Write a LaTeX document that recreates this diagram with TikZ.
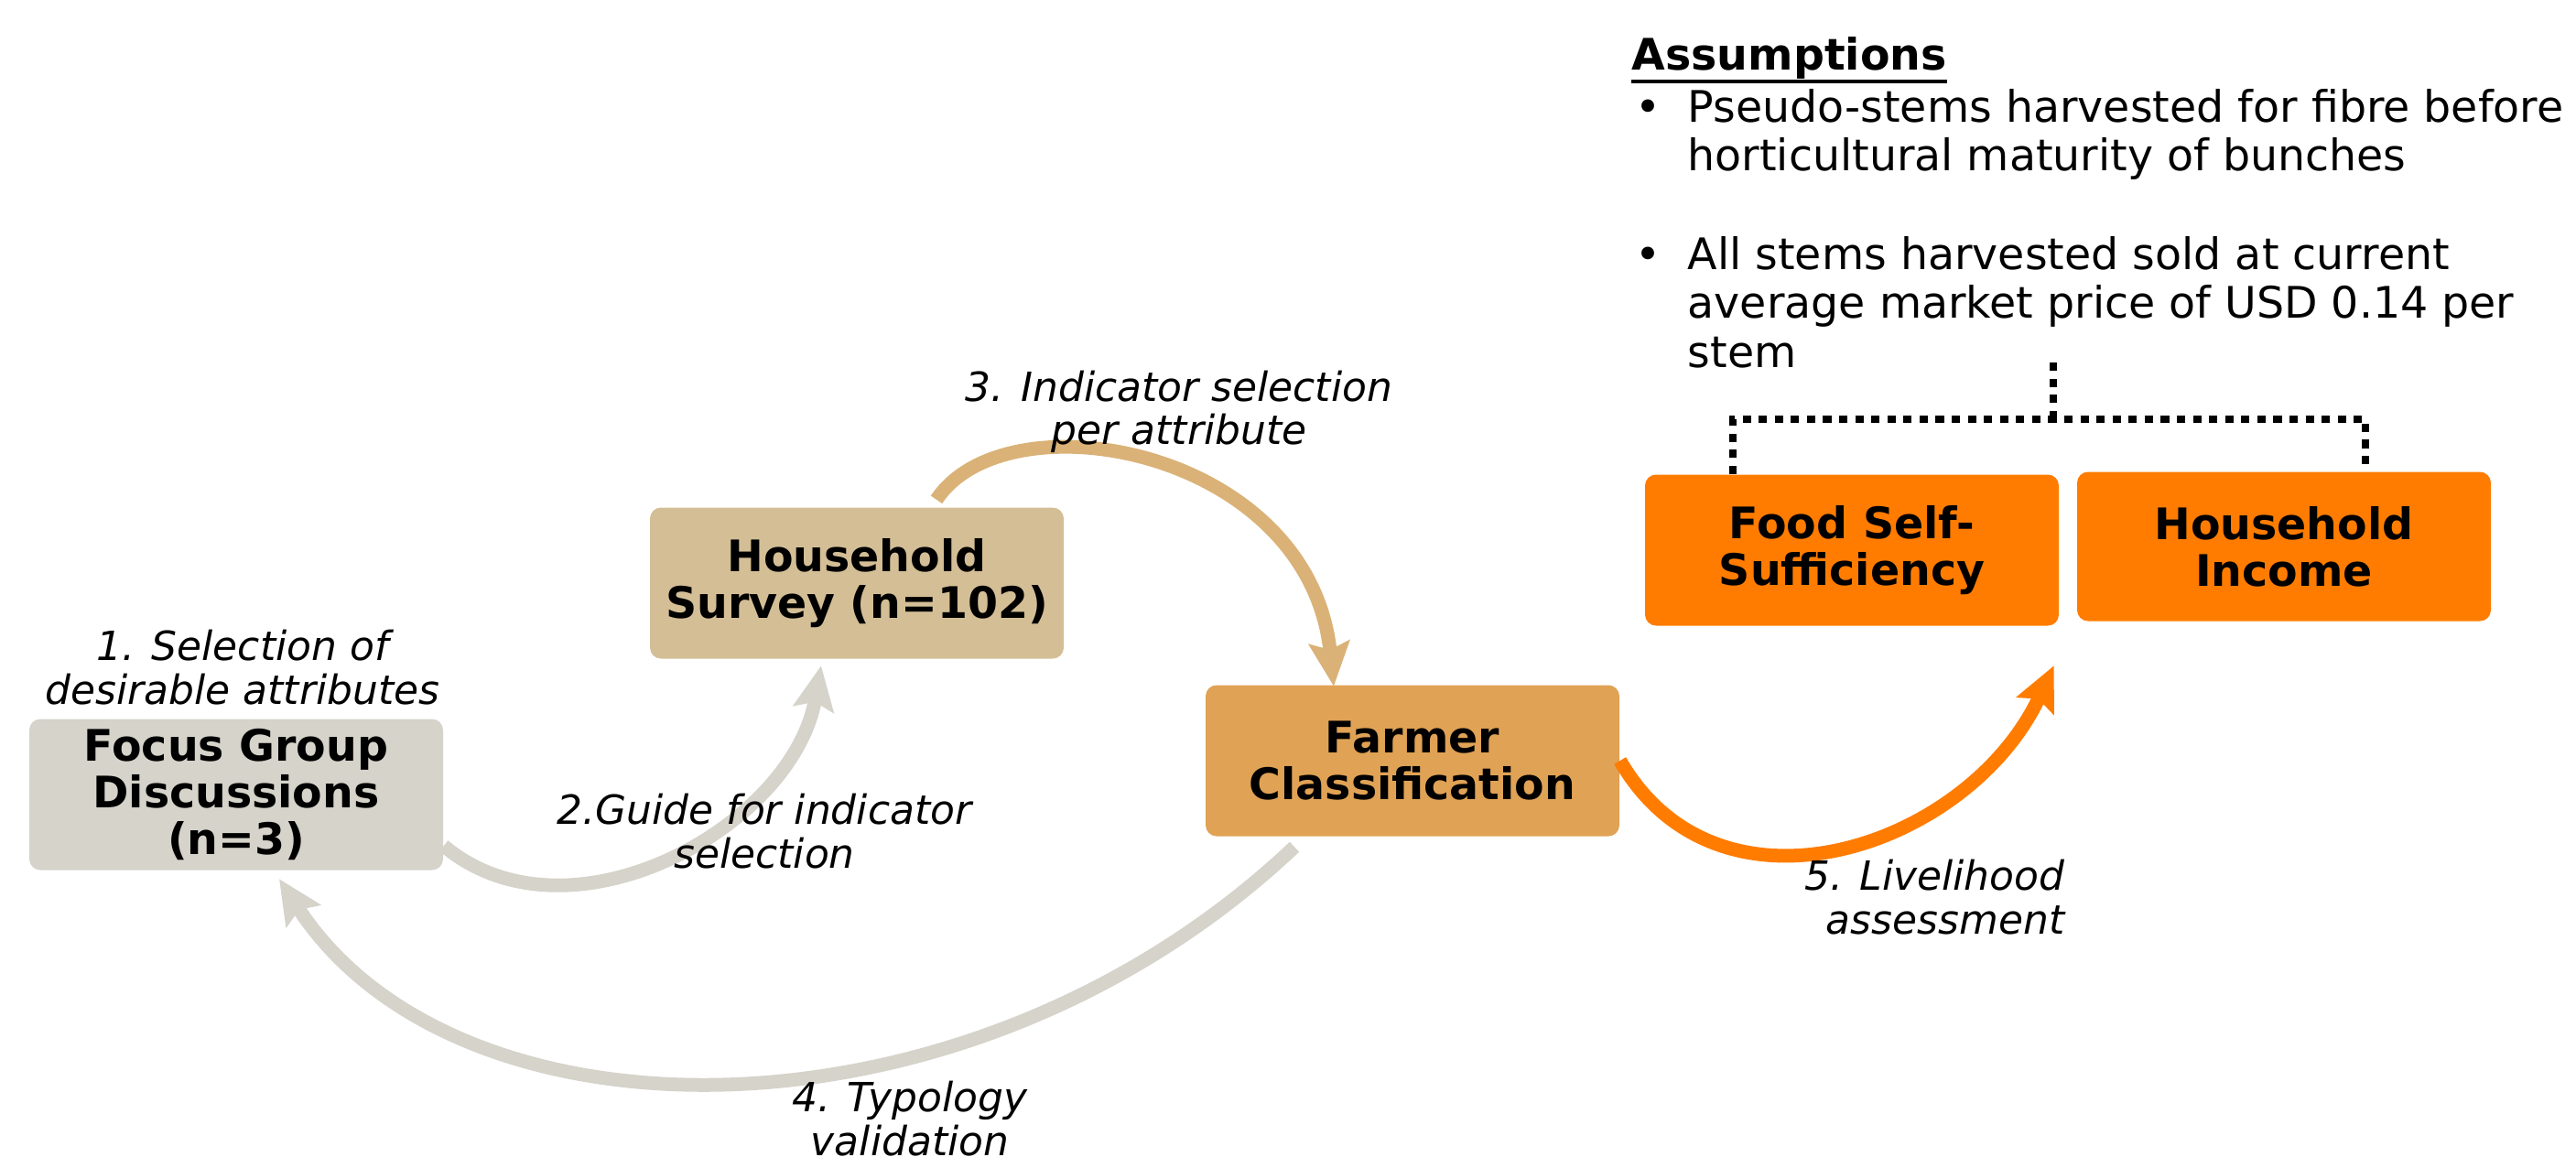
\documentclass[tikz,border=0pt]{standalone}
\usepackage{fontspec}
\setmainfont{DejaVu Sans}
\usetikzlibrary{arrows.meta}

\definecolor{fgdgrey}{RGB}{213,211,202}
\definecolor{surveytan}{RGB}{212,190,150}
\definecolor{farmerbrown}{RGB}{224,162,85}
\definecolor{livelyorange}{RGB}{255,124,0}
\definecolor{arrowtan}{RGB}{218,178,119}

\newcommand{\notelines}[1]{\begin{tabular}[t]{@{}l@{}}#1\end{tabular}}

\tikzset{
  stagebox/.style={rounded corners=0.12cm, minimum width=4.52cm, minimum height=1.65cm,
    align=center, inner sep=0pt, font=\fontsize{13.5}{14.5}\selectfont\bfseries},
  steplabel/.style={align=center, inner sep=0pt, font=\fontsize{12.5}{13.5}\selectfont\itshape},
  notetext/.style={inner sep=0pt, anchor=base west, font=\fontsize{13.5}{15.3}\selectfont},
  flow/.style={line width=0.15cm, -{Stealth[width=0.44cm,length=0.48cm,inset=0.08cm]}},
  bracket/.style={line width=2.2pt, dash pattern=on 2.6pt off 2.4pt},
}

\begin{document}
\begin{tikzpicture}
\useasboundingbox (0,0) rectangle (28.14,-12.75);

% First the stages
\node[stagebox, fill=fgdgrey] (focus) at (2.58,-8.68) {Focus Group\\Discussions\\(n=3)};
\node[stagebox, fill=surveytan] (survey) at (9.36,-6.37) {Household\\Survey (n=102)};
\node[stagebox, fill=farmerbrown] (farmer) at (15.43,-8.31) {Farmer\\Classification};
\node[stagebox, fill=livelyorange] (food) at (20.23,-6.01) {Food Self-\\Sufficiency};
\node[stagebox, fill=livelyorange, minimum height=1.63cm] (income) at (24.95,-5.97) {Household\\Income};

% Now the arrows between stages
\draw[flow, draw=fgdgrey] ([yshift=-0.56cm]focus.east)
    to[out=-40, in=-100] ([xshift=-0.39cm, yshift=-0.07cm]survey.south);
\draw[flow, draw=arrowtan] ([xshift=0.87cm, yshift=0.08cm]survey.north)
    .. controls (11.0,-4.3) and (14.3,-4.9) .. ([xshift=-0.86cm, yshift=-0.02cm]farmer.north);
\draw[flow, draw=fgdgrey] ([xshift=-1.29cm, yshift=-0.11cm]farmer.south)
    .. controls (10.6,-12.6) and (5.0,-12.6) .. ([xshift=0.47cm, yshift=-0.09cm]focus.south);
\coordinate (livetip) at ([xshift=-0.06cm, yshift=-0.43cm]food.south east);
\draw[flow, draw=livelyorange] (farmer.east) to[out=-60, in=-115, looseness=1.15] (livetip);

% Now the step labels
\node[steplabel] (lab1) at (2.65,-7.29) {1. Selection of\\desirable attributes};
\node[steplabel] (lab2) at (8.35,-9.08) {2.Guide for indicator\\selection};
\node[steplabel] (lab3) at (12.88,-4.50) {3. Indicator selection\\per attribute};
\node[steplabel] (lab4) at (9.94,-12.22) {4. Typology\\validation};
\node[steplabel, align=right, anchor=east] (lab5) at (22.56,-9.80) {5. Livelihood\\assessment};

% now the assumptions
\node[notetext, font=\fontsize{13.5}{15.3}\selectfont\bfseries] (assume) at (17.82,-0.76) {Assumptions};
\draw[line width=1.3pt] ([yshift=-0.13cm]assume.base west) -- ([yshift=-0.13cm]assume.base east);
\node[notetext] (dotA) at (17.86,-1.33) {•};
\node[notetext] (noteA) at (18.43,-1.33) {\notelines{Pseudo-stems harvested for fibre before\\horticultural maturity of bunches}};
\node[notetext] (dotB) at (17.86,-2.94) {•};
\node[notetext] (noteB) at (18.43,-2.94) {\notelines{All stems harvested sold at current\\average market price of USD 0.14 per\\stem}};

% the dotted bracket
\coordinate (brkmid) at (22.43,-4.58);
\coordinate (brktop) at (22.43,-3.91);
\draw[bracket] ([xshift=-1.30cm]food.north) |- (brkmid) -| ([xshift=0.89cm]income.north);
\draw[bracket] (brkmid) -- (brktop);
\end{tikzpicture}
\end{document}
